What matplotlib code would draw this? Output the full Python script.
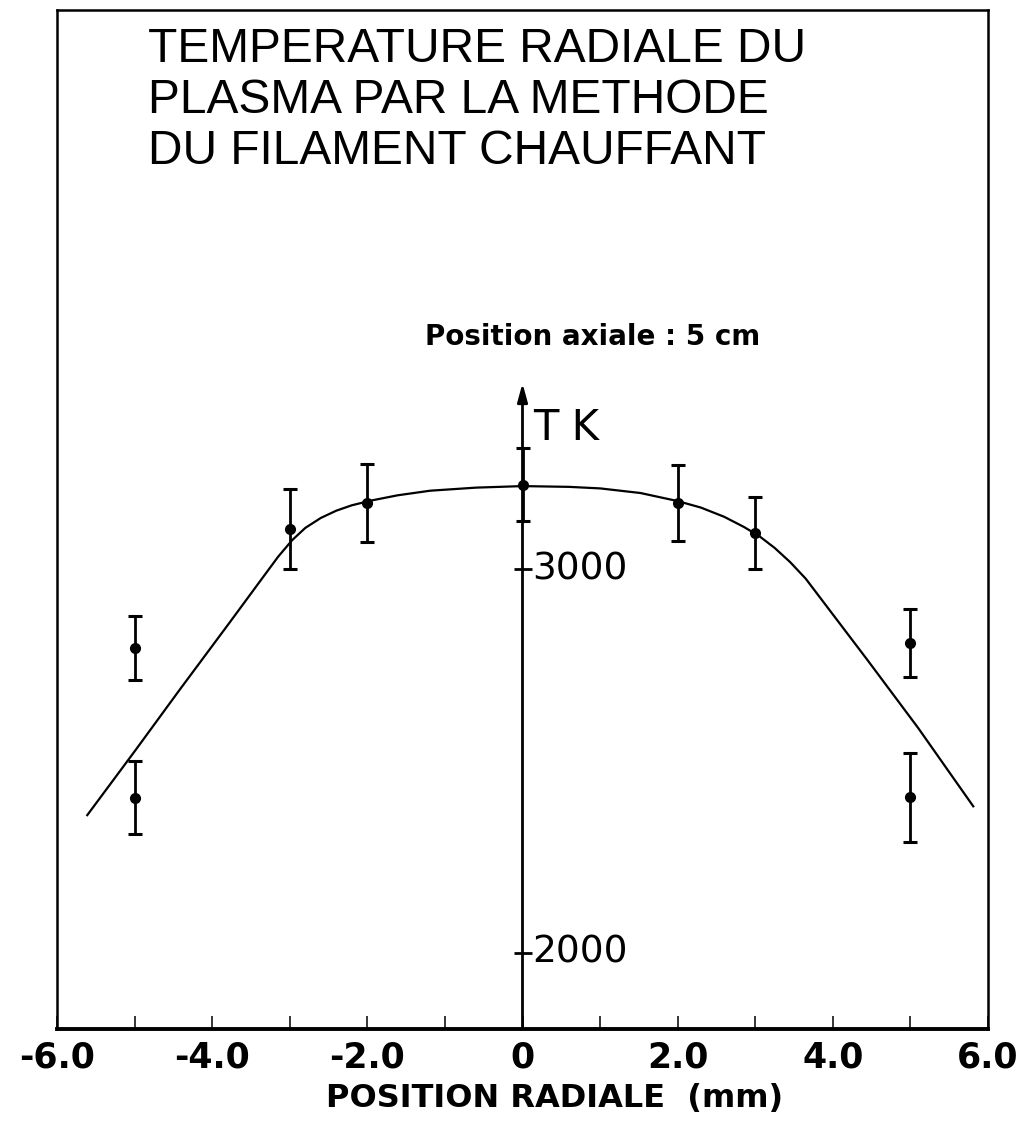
import numpy as np
import matplotlib
matplotlib.use("Agg")
import matplotlib.pyplot as plt

# measured points (radial position in mm, temperature in K)
pos_mm = [-5.0, -5.0, -3.0, -2.0, 0.0, 2.0, 3.0, 5.0, 5.0]
temp_k = [2794, 2404, 3104, 3172, 3219, 3172, 3094, 2807, 2406]
err_k = [84, 95, 105, 102, 95, 99, 94, 88, 116]

# hand drawn fit curve
curve_x = [-5.61, -5.0, -4.41, -3.77, -3.34, -3.15, -2.97, -2.80, -2.60, -2.40,
           -2.20, -1.96, -1.61, -1.19, -0.6, 0.0, 0.6, 1.0, 1.52, 2.0, 2.3,
           2.6, 2.85, 3.05, 3.25, 3.45, 3.65, 4.45, 5.10, 5.81]
curve_t = [2359, 2525, 2688, 2862, 2980, 3032, 3075, 3107, 3133, 3152,
           3166, 3178, 3192, 3204, 3212, 3216, 3214, 3210, 3198, 3177, 3160,
           3136, 3110, 3086, 3055, 3018, 2975, 2762, 2586, 2382]

xticks_major = [-6, -4, -2, 0, 2, 4, 6]
xtick_labels = ["-6.0", "-4.0", "-2.0", "0", "2.0", "4.0", "6.0"]
xticks_minor = [-5, -3, -1, 1, 3, 5]
yticks = [2000, 3000]
ytick_labels = ["2000", "3000"]

title_lines = ["TEMPERATURE RADIALE DU",
               "PLASMA PAR LA METHODE",
               "DU FILAMENT CHAUFFANT"]

W, H = 1023, 1126
fig = plt.figure(figsize=(W / 100, H / 100), dpi=100)
ax = fig.add_axes([57 / W, 1 - 1029 / H, (988 - 57) / W, (1029 - 10) / H])
ax.set_xlim(-6, 6)
ax.set_ylim(1802, 4456)

for side in ["left", "right", "top"]:
    ax.spines[side].set_linewidth(1.8)
ax.spines["bottom"].set_linewidth(2.8)

ax.set_xticks(xticks_major)
ax.set_xticklabels(xtick_labels, fontsize=25, fontweight="bold",
                   family="DejaVu Sans")
ax.set_xticks(xticks_minor, minor=True)
ax.tick_params(axis="x", which="both", direction="in", length=9.5, width=1.1,
               pad=8, top=False)
ax.set_yticks([])

# vertical temperature axis at x = 0 with an arrow head
y_top = 3484
ax.annotate("", xy=(0, y_top), xytext=(0, ax.get_ylim()[0]),
            arrowprops=dict(arrowstyle="-|>,head_length=1.1,head_width=0.3",
                            lw=2.0, color="black", shrinkA=0, shrinkB=0))
ax.plot(np.zeros(len(yticks)), yticks, ls="none", marker="_", ms=13, mew=2,
        color="black")
for t, lab in zip(yticks, ytick_labels):
    ax.annotate(lab, xy=(0, t), xytext=(10, 0), textcoords="offset pixels",
                ha="left", va="center", fontsize=27, family="DejaVu Sans")

# fit curve and measurements
ax.plot(curve_x, curve_t, color="black", lw=1.6)
ax.errorbar(pos_mm, temp_k, yerr=err_k, fmt="o", color="black", ms=7,
            elinewidth=2.0, capsize=5, capthick=2.2)

# texts
for i, line in enumerate(title_lines):
    fig.text(148 / W, 1 - (62 + 51 * i) / H, line, fontsize=34.5,
             family="Liberation Sans", va="baseline", ha="left")
fig.text(425 / W, 1 - 345 / H, "Position axiale : 5 cm", fontsize=20,
         fontweight="bold", family="DejaVu Sans", va="baseline")
fig.text(533 / W, 1 - 440 / H, "T K", fontsize=30, family="DejaVu Sans",
         va="baseline")
fig.text(555 / W, 1 - 1107 / H, "POSITION RADIALE  (mm)", fontsize=23,
         fontweight="bold", family="DejaVu Sans", ha="center", va="baseline")

fig.savefig("out.png", dpi=100)
